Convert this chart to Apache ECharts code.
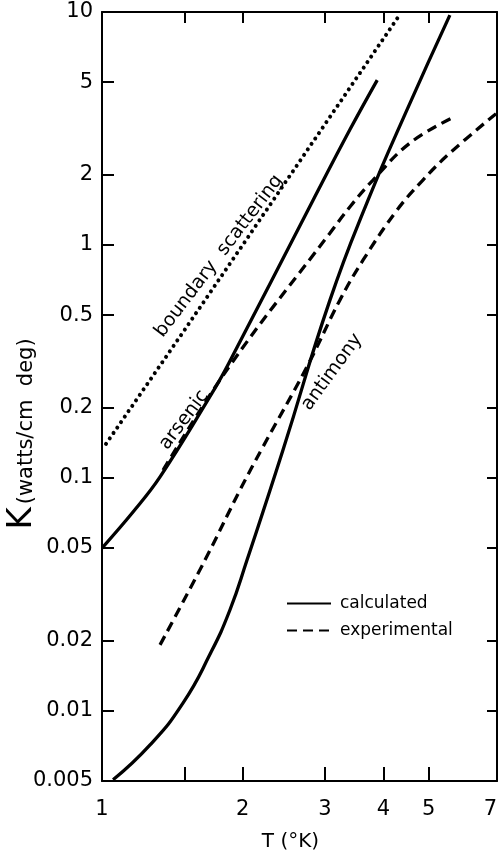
<!DOCTYPE html>
<html><head><meta charset="utf-8">
<script src="https://cdn.jsdelivr.net/npm/echarts@6/dist/echarts.min.js"></script>
<style>html,body{margin:0;padding:0;background:#fff}#c{width:501px;height:854px}</style>
</head><body><div id="c"></div>
<script>
// Axis ticks / labels
const xLabelValues = [1, 2, 3, 4, 5, 7];
const xTickValues = [1.5, 2, 3, 4, 5];
const yTickValues = [0.005, 0.01, 0.02, 0.05, 0.1, 0.2, 0.5, 1, 2, 5, 10];

// Boundary scattering (dotted)
const boundaryT = [1.02, 1.5, 2, 3, 4.3];
const boundaryK = [0.14, 0.43, 1.0, 3.3, 9.5];

// Arsenic calculated (solid)
const arsenicCalcT = [1.0, 1.165, 1.331, 1.745, 1.87, 2.83, 3.39, 3.88];
const arsenicCalcK = [0.050, 0.0714, 0.101, 0.243, 0.312, 1.56, 3.12, 5.1];

// Arsenic experimental (dashed)
const arsenicExpT = [1.351, 1.87, 3.075, 3.39, 3.80, 4.56, 5.61];
const arsenicExpK = [0.108, 0.30, 1.126, 1.456, 1.90, 2.74, 3.51];

// Antimony calculated (solid)
const antimonyCalcT = [1.056, 1.267, 1.49, 1.70, 1.878, 2.043, 2.44, 3.075, 3.71, 4.49, 5.55];
const antimonyCalcK = [0.00506, 0.00714, 0.0108, 0.0174, 0.0271, 0.0444, 0.132, 0.581, 1.56, 3.79, 9.7];

// Antimony experimental (dashed)
const antimonyExpT = [1.331, 1.661, 1.974, 2.21, 2.745, 3.23, 3.62, 4.28, 4.86, 5.55, 7.0];
const antimonyExpK = [0.0192, 0.0444, 0.0888, 0.136, 0.30, 0.581, 0.862, 1.413, 1.90, 2.48, 3.69];

const zip = (a, b) => a.map((v, i) => [v, b[i]]);
const FONT = 'DejaVu Sans';
const black = '#000';

const solid = { color: black, width: 3.3, type: 'solid' };
const dashed = { color: black, width: 3.3, type: [10, 6] };
const dotted = { color: black, width: 4, type: [0.01, 6.6], cap: 'round' };

const chart = echarts.init(document.getElementById('c'), null, { renderer: 'canvas' });
chart.setOption({
  backgroundColor: '#fff',
  animation: false,
  grid: { left: 102, right: 4, top: 12, bottom: 73, containLabel: false, outerBoundsMode: 'none' },
  xAxis: [
    {
      type: 'log', logBase: 10, min: 1, max: 7, position: 'bottom',
      axisLine: { show: true, lineStyle: { color: black, width: 2 } },
      axisTick: { show: true, inside: true, length: 14, customValues: xTickValues, lineStyle: { color: black, width: 2 } },
      axisLabel: { show: true, customValues: xLabelValues, color: black, fontSize: 21, fontFamily: FONT, margin: 18, alignMaxLabel: 'right', formatter: v => String(v) },
      splitLine: { show: false },
      name: 'T (°K)', nameLocation: 'middle', nameGap: 51,
      nameTextStyle: { color: black, fontSize: 20, fontFamily: FONT, padding: [0, 18, 0, 0] }
    },
    {
      type: 'log', logBase: 10, min: 1, max: 7, position: 'top',
      axisLine: { show: true, lineStyle: { color: black, width: 2 } },
      axisTick: { show: true, inside: true, length: 11, customValues: xTickValues, lineStyle: { color: black, width: 2 } },
      axisLabel: { show: false },
      splitLine: { show: false }
    }
  ],
  yAxis: [
    {
      type: 'log', logBase: 10, min: 0.005, max: 10, position: 'left',
      axisLine: { show: true, lineStyle: { color: black, width: 2 } },
      axisTick: { show: true, inside: true, length: 12, customValues: yTickValues, lineStyle: { color: black, width: 2 } },
      axisLabel: { show: true, customValues: yTickValues, color: black, fontSize: 21, fontFamily: FONT, margin: 9, formatter: v => String(v) },
      splitLine: { show: false }
    },
    {
      type: 'log', logBase: 10, min: 0.005, max: 10, position: 'right',
      axisLine: { show: true, lineStyle: { color: black, width: 2 } },
      axisTick: { show: true, inside: true, length: 10, customValues: yTickValues, lineStyle: { color: black, width: 2 } },
      axisLabel: { show: false },
      splitLine: { show: false }
    }
  ],
  legend: {
    data: ['calculated', 'experimental'],
    orient: 'vertical', left: 281, top: 590,
    itemWidth: 44, itemHeight: 14, itemGap: 10,
    itemStyle: { opacity: 0 },
    textStyle: { color: black, fontSize: 17, fontFamily: FONT, padding: [0, 0, 0, 4] }
  },
  series: [
    { name: 'boundary scattering', type: 'line', data: zip(boundaryT, boundaryK), symbol: 'none', smooth: false, lineStyle: dotted, silent: true },
    { name: 'calculated', type: 'line', data: zip(arsenicCalcT, arsenicCalcK), symbol: 'none', smooth: 0.4, lineStyle: solid, itemStyle: { color: black } },
    { name: 'experimental', type: 'line', data: zip(arsenicExpT, arsenicExpK), symbol: 'none', smooth: 0.4, lineStyle: dashed, itemStyle: { color: black } },
    { name: 'calculated', type: 'line', data: zip(antimonyCalcT, antimonyCalcK), symbol: 'none', smooth: 0.5, lineStyle: solid, itemStyle: { color: black } },
    { name: 'experimental', type: 'line', data: zip(antimonyExpT, antimonyExpK), symbol: 'none', smooth: 0.4, lineStyle: dashed, itemStyle: { color: black } }
  ],
  graphic: [
    {
      type: 'text', x: 22, y: 434, rotation: Math.PI / 2,
      style: {
        text: '{k|K}{r|(watts/cm  deg)}',
        align: 'center', verticalAlign: 'middle',
        rich: {
          k: { fontSize: 34, fontFamily: FONT, fill: black, verticalAlign: 'bottom' },
          r: { fontSize: 21, fontFamily: FONT, fill: black, verticalAlign: 'bottom', padding: [0, 0, 2, 3] }
        }
      }
    },
    { type: 'text', x: 219, y: 256, rotation: 52.7 * Math.PI / 180,
      style: { text: 'boundary  scattering', fontSize: 19, fontFamily: FONT, fill: black, align: 'center', verticalAlign: 'middle' } },
    { type: 'text', x: 184, y: 420, rotation: 53 * Math.PI / 180,
      style: { text: 'arsenic', fontSize: 19, fontFamily: FONT, fill: black, align: 'center', verticalAlign: 'middle' } },
    { type: 'text', x: 332, y: 372, rotation: 54 * Math.PI / 180,
      style: { text: 'antimony', fontSize: 19, fontFamily: FONT, fill: black, align: 'center', verticalAlign: 'middle' } }
  ]
});
</script>
</body></html>
